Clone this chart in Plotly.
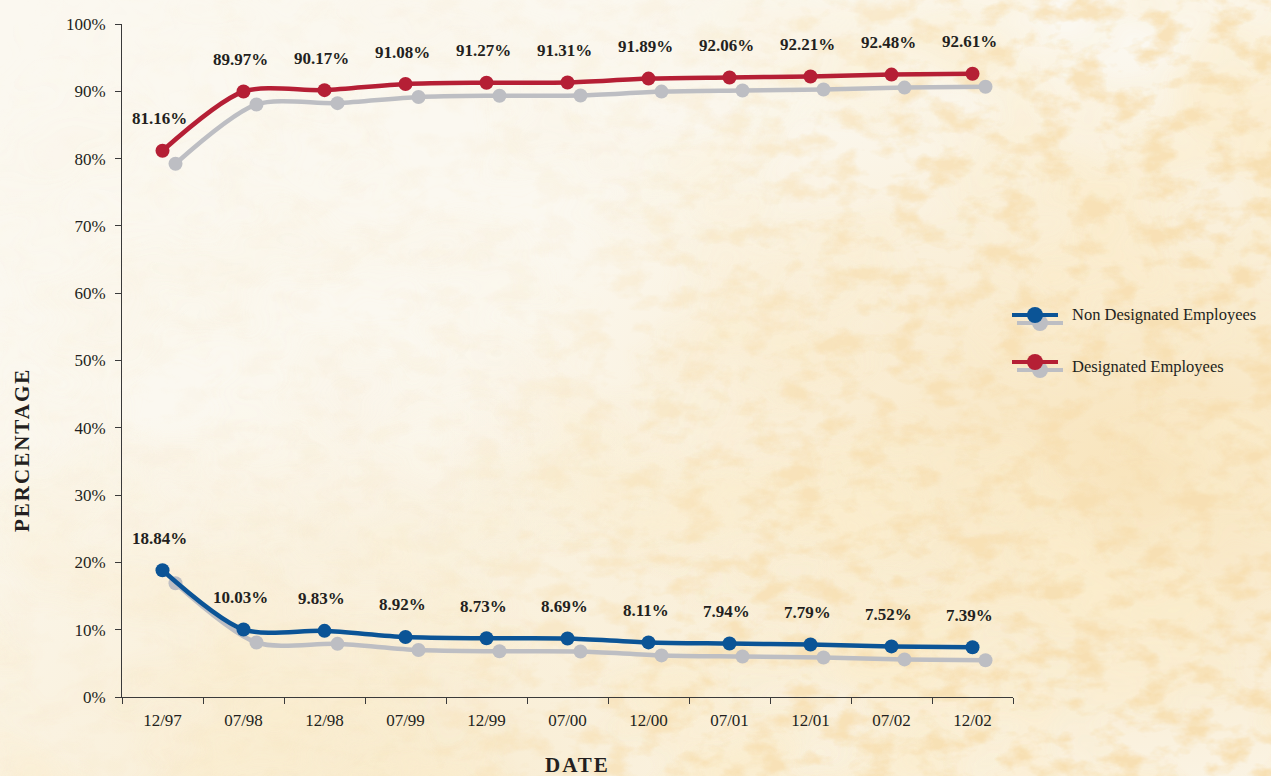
import plotly.graph_objects as go
from urllib.parse import quote

# ---------------- data ----------------
dates = ["12/97", "07/98", "12/98", "07/99", "12/99", "07/00",
         "12/00", "07/01", "12/01", "07/02", "12/02"]
designated = [81.16, 89.97, 90.17, 91.08, 91.27, 91.31,
              91.89, 92.06, 92.21, 92.48, 92.61]
non_designated = [18.84, 10.03, 9.83, 8.92, 8.73, 8.69,
                  8.11, 7.94, 7.79, 7.52, 7.39]
y_tick_values = [0, 10, 20, 30, 40, 50, 60, 70, 80, 90, 100]
y_tick_labels = ["0%", "10%", "20%", "30%", "40%", "50%",
                 "60%", "70%", "80%", "90%", "100%"]
series_names = ["Non Designated Employees", "Designated Employees"]

# ---------------- styling ----------------
W, H = 1271, 776
RED = "#B51F35"
BLUE = "#0B5496"
GRAY = "#BDBEC3"
TXT = "#231F20"
AXC = "#3A3A3A"
FONT = "Liberation Serif"


def px(x):
    return x / W


def py(y):
    return 1 - y / H


# plot area in pixels
L, R, T, B = 122, 1013, 24, 697
SH = 13  # shadow offset in pixels

# background parchment texture (svg data uri)
svg = f"""<svg xmlns='http://www.w3.org/2000/svg' width='{W}' height='{H}' viewBox='0 0 {W} {H}'>
<defs>
<filter id='t' x='0' y='0' width='100%' height='100%'>
<feTurbulence type='fractalNoise' baseFrequency='0.028 0.045' numOctaves='4' seed='11'/>
<feColorMatrix type='matrix' values='0 0 0 0 0.93  0 0 0 0 0.74  0 0 0 0 0.45  0 0 0 3.4 -1.55'/>
</filter>
<filter id='t2' x='0' y='0' width='100%' height='100%'>
<feTurbulence type='fractalNoise' baseFrequency='0.006 0.009' numOctaves='3' seed='3'/>
<feColorMatrix type='matrix' values='0 0 0 0 0.96  0 0 0 0 0.84  0 0 0 0 0.60  0 0 0 2.0 -0.65'/>
</filter>
<linearGradient id='g' x1='0' y1='0' x2='1' y2='0.3'>
<stop offset='0' stop-color='#fff' stop-opacity='0.0'/>
<stop offset='0.5' stop-color='#fff' stop-opacity='0.15'/>
<stop offset='0.75' stop-color='#fff' stop-opacity='0.8'/>
<stop offset='1' stop-color='#fff' stop-opacity='1'/>
</linearGradient>
<linearGradient id='gb' x1='0' y1='0' x2='0' y2='1'>
<stop offset='0' stop-color='#fff' stop-opacity='0.0'/>
<stop offset='0.55' stop-color='#fff' stop-opacity='0.1'/>
<stop offset='1' stop-color='#fff' stop-opacity='0.7'/>
</linearGradient>
<radialGradient id='r1' cx='0.9' cy='0.6' r='0.55'>
<stop offset='0' stop-color='#F8E2B6' stop-opacity='0.9'/>
<stop offset='1' stop-color='#F8E2B6' stop-opacity='0'/>
</radialGradient>
<radialGradient id='r2' cx='0.3' cy='1.0' r='0.5'>
<stop offset='0' stop-color='#F8E8C6' stop-opacity='0.8'/>
<stop offset='1' stop-color='#F8E8C6' stop-opacity='0'/>
</radialGradient>
<mask id='m'><rect width='{W}' height='{H}' fill='url(#g)'/></mask>
<mask id='mb'><rect width='{W}' height='{H}' fill='url(#gb)'/></mask>
</defs>
<rect width='{W}' height='{H}' fill='#FBF8F0'/>
<rect width='{W}' height='{H}' fill='url(#r1)'/>
<rect width='{W}' height='{H}' fill='url(#r2)'/>
<rect width='{W}' height='{H}' filter='url(#t2)' mask='url(#m)'/>
<rect width='{W}' height='{H}' filter='url(#t2)' mask='url(#mb)'/>
<rect width='{W}' height='{H}' filter='url(#t)' mask='url(#m)'/>
</svg>"""
bg_uri = "data:image/svg+xml;charset=utf-8," + quote(svg)

fig = go.Figure()

# shadows (drawn on the shifted, hidden axes x/y)
for vals in (designated, non_designated):
    fig.add_trace(go.Scatter(
        x=dates, y=vals, xaxis="x", yaxis="y", mode="lines+markers",
        line=dict(color=GRAY, width=4.5, shape="spline", smoothing=0.8),
        marker=dict(color=GRAY, size=14), showlegend=False, hoverinfo="skip"))

# main series on visible axes x2/y2
for vals, col, name in ((non_designated, BLUE, series_names[0]),
                        (designated, RED, series_names[1])):
    fig.add_trace(go.Scatter(
        x=dates, y=vals, xaxis="x2", yaxis="y2", mode="lines+markers",
        name=name,
        line=dict(color=col, width=4.5, shape="spline", smoothing=0.8),
        marker=dict(color=col, size=14), showlegend=False))

annotations = []
for vals in (designated, non_designated):
    for d, v in zip(dates, vals):
        annotations.append(dict(
            x=d, y=v, xref="x2", yref="y2", text=f"<b>{v:.2f}%</b>",
            showarrow=False, yshift=32, xshift=-3,
            xanchor="center", yanchor="middle",
            font=dict(family=FONT, size=17, color=TXT)))

annotations.append(dict(
    x=px(22), y=py(450), xref="paper", yref="paper", textangle=-90,
    xanchor="center", yanchor="middle",
    text="<b><span style='letter-spacing:2px'>PERCENTAGE</span></b>",
    showarrow=False, font=dict(family=FONT, size=21, color=TXT)))
annotations.append(dict(
    x=px(577), y=py(765), xref="paper", yref="paper",
    xanchor="center", yanchor="middle",
    text="<b><span style='letter-spacing:2px'>DATE</span></b>",
    showarrow=False, font=dict(family=FONT, size=21, color=TXT)))

# custom legend
shapes = []
legend_rows = [(series_names[0], BLUE, 315, 314), (series_names[1], RED, 362, 366)]
for name, col, cy, ty in legend_rows:
    gy = cy + 8
    for (x0, x1, yy, c, cx) in ((1017, 1063, gy, GRAY, 1040),
                                 (1012, 1058, cy, col, 1035)):
        shapes.append(dict(type="line", xref="paper", yref="paper",
                           x0=px(x0), x1=px(x1), y0=py(yy), y1=py(yy),
                           line=dict(color=c, width=4)))
        r = 8
        shapes.append(dict(type="circle", xref="paper", yref="paper",
                           x0=px(cx - r), x1=px(cx + r),
                           y0=py(yy + r), y1=py(yy - r),
                           fillcolor=c, line=dict(color=c, width=0)))
    annotations.append(dict(
        x=px(1070), y=py(ty), xref="paper", yref="paper",
        xanchor="left", yanchor="middle",
        text=name, showarrow=False,
        font=dict(family=FONT, size=16.5, color=TXT)))

fig.update_layout(
    template="none",
    width=W, height=H, autosize=False,
    margin=dict(l=0, r=0, t=0, b=0, pad=0),
    paper_bgcolor="rgba(0,0,0,0)", plot_bgcolor="rgba(0,0,0,0)",
    showlegend=False,
    images=[dict(source=bg_uri, xref="paper", yref="paper", x=0, y=1,
                 sizex=1, sizey=1, sizing="stretch", layer="below",
                 xanchor="left", yanchor="top")],
    xaxis=dict(domain=[px(L + SH), px(R + SH)], anchor="y", visible=False,
               type="category", range=[-0.5, 10.5], fixedrange=True,
               automargin=False),
    yaxis=dict(domain=[py(B + SH), py(T + SH)], anchor="x", visible=False,
               range=[0, 100], fixedrange=True, automargin=False),
    xaxis2=dict(domain=[px(L), px(R)], anchor="y2", type="category",
                range=[-0.5, 10.5], tickson="boundaries", automargin=False,
                showline=True, linecolor=AXC, linewidth=1,
                ticks="outside", ticklen=6, tickcolor=AXC, tickwidth=1,
                showgrid=False, zeroline=False, ticklabelstandoff=8,
                tickfont=dict(family=FONT, size=17, color=TXT)),
    yaxis2=dict(domain=[py(B), py(T)], anchor="x2", range=[0, 100],
                tickvals=y_tick_values, ticktext=y_tick_labels,
                automargin=False,
                showline=True, linecolor=AXC, linewidth=1,
                ticks="outside", ticklen=6, tickcolor=AXC, tickwidth=1,
                showgrid=False, zeroline=False, ticklabelstandoff=6,
                tickfont=dict(family=FONT, size=17, color=TXT)),
    annotations=annotations,
    shapes=shapes,
)

fig.write_html("out.html")
